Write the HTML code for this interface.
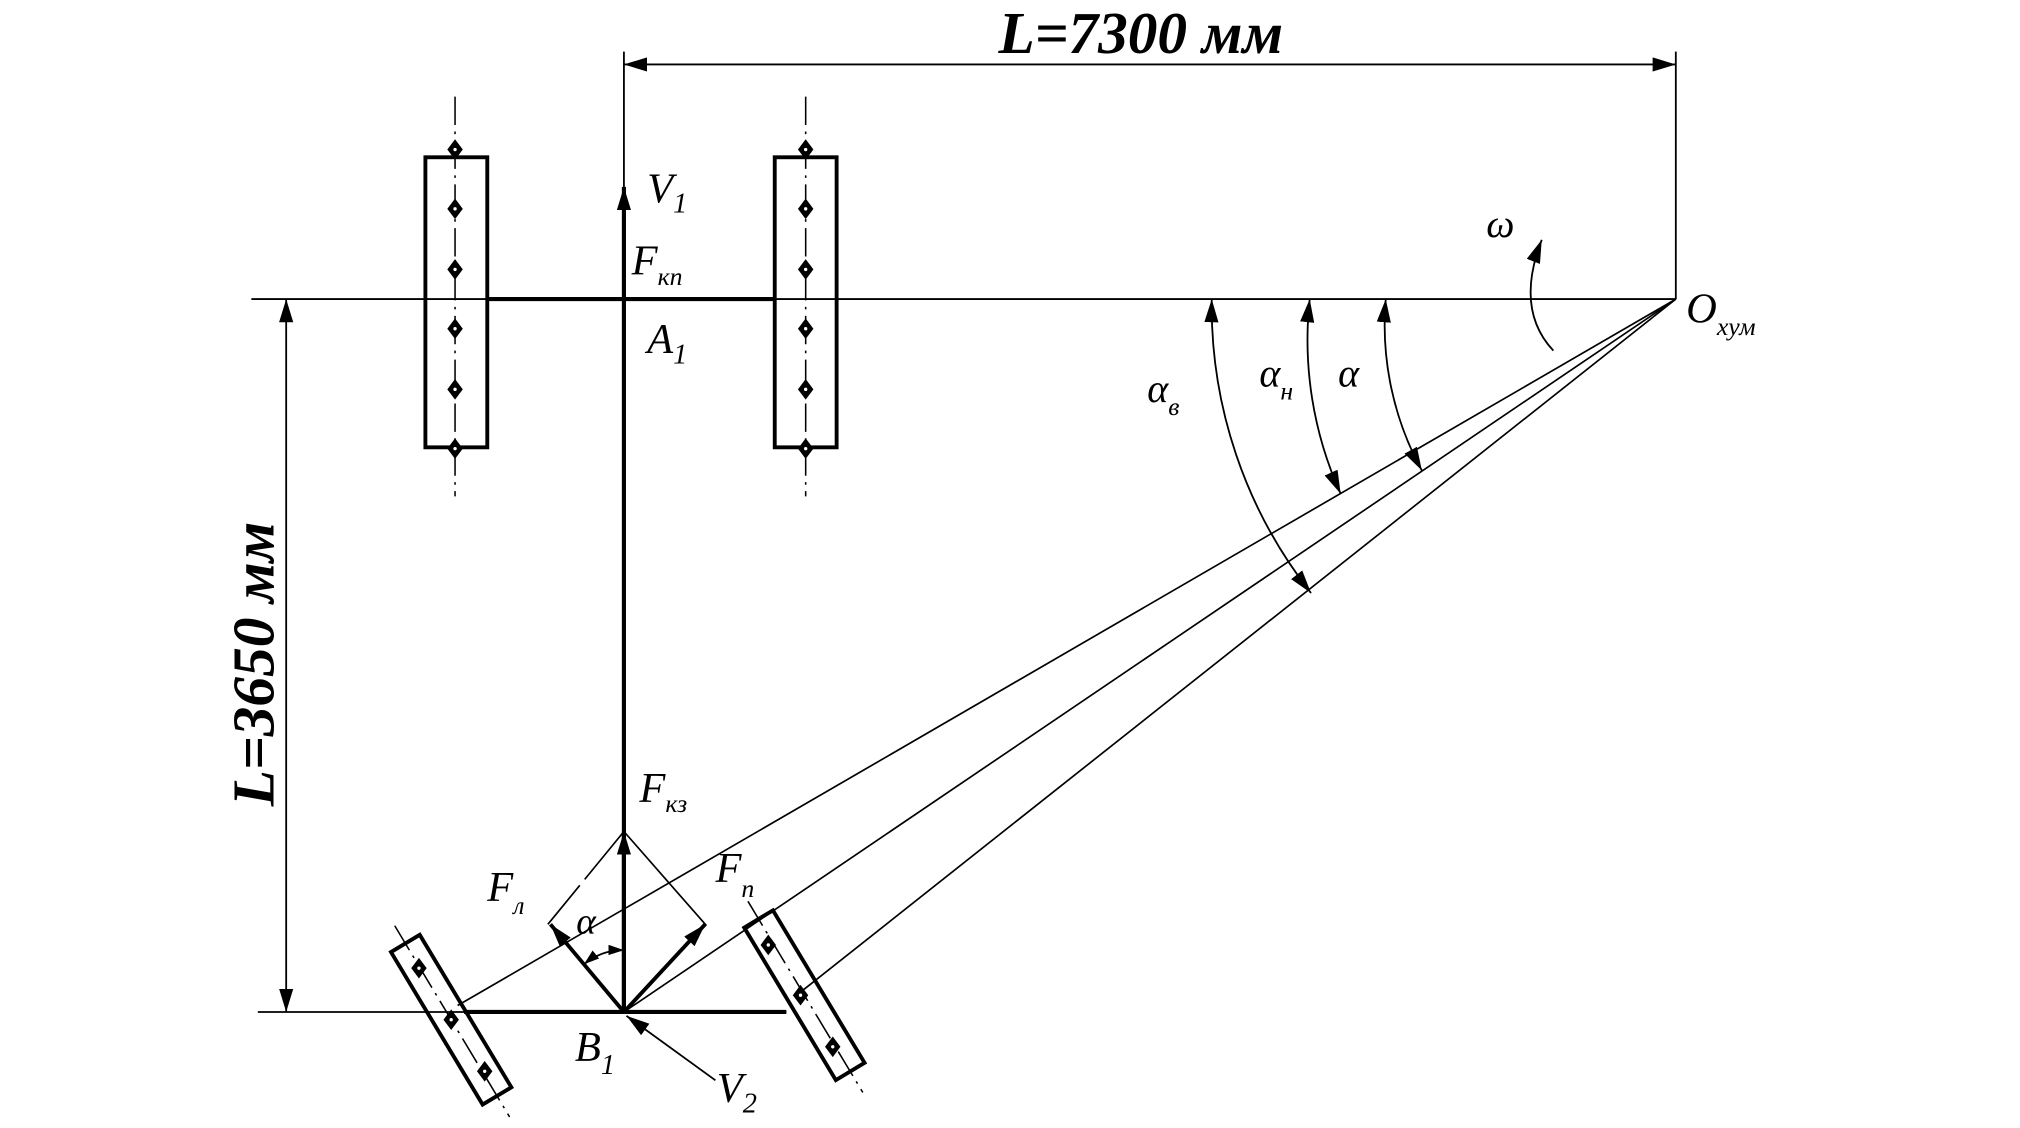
<!DOCTYPE html>
<html><head><meta charset="utf-8"><style>
html,body{margin:0;padding:0;background:#fff;}
svg{display:block;}
text{font-family:"Liberation Serif",serif;font-style:italic;fill:#000;}
</style></head><body>
<svg width="2020" height="1128" viewBox="0 0 1567 875" preserveAspectRatio="none" xmlns="http://www.w3.org/2000/svg">
<defs>
<marker id="a" viewBox="0 0 18 11" refX="18" refY="5.5" markerWidth="18" markerHeight="11" markerUnits="userSpaceOnUse" orient="auto">
<path d="M0,0 L18,5.5 L0,11 Z" fill="#000"/></marker>
<marker id="as" viewBox="0 0 18 11" refX="0" refY="5.5" markerWidth="18" markerHeight="11" markerUnits="userSpaceOnUse" orient="auto">
<path d="M18,0 L0,5.5 L18,11 Z" fill="#000"/></marker>
<marker id="b" viewBox="0 0 12 8" refX="12" refY="4" markerWidth="12" markerHeight="8" markerUnits="userSpaceOnUse" orient="auto">
<path d="M0,0 L12,4 L0,8 Z" fill="#000"/></marker>
<marker id="bs" viewBox="0 0 12 8" refX="0" refY="4" markerWidth="12" markerHeight="8" markerUnits="userSpaceOnUse" orient="auto">
<path d="M12,0 L0,4 L12,8 Z" fill="#000"/></marker>
<g id="dia"><path d="M0,-8 L6,0 L0,8 L-6,0 Z" fill="#000"/><circle r="1.3" fill="#fff"/></g>
</defs>

<g stroke="#000" fill="none">
<line x1="484" y1="50" x2="1300" y2="50" stroke-width="1.4" marker-start="url(#as)" marker-end="url(#a)"/>
<line x1="484" y1="40" x2="484" y2="150" stroke-width="1.4"/>
<line x1="1300" y1="40" x2="1300" y2="232" stroke-width="1.4"/>
<line x1="195" y1="232" x2="1300" y2="232" stroke-width="1.4"/>
<line x1="378" y1="232" x2="601" y2="232" stroke-width="3.2"/>
<line x1="484" y1="785" x2="484" y2="145" stroke-width="3.2" marker-end="url(#a)"/>
<line x1="484" y1="785" x2="484" y2="645" stroke-width="3.2" marker-end="url(#a)"/>
<rect x="330" y="122" width="48" height="225" stroke-width="3"/>
<rect x="601" y="122" width="48" height="225" stroke-width="3"/>
<line x1="353" y1="75" x2="353" y2="385" stroke-width="1.2" stroke-dasharray="22 5 2 5"/>
<line x1="625" y1="75" x2="625" y2="385" stroke-width="1.2" stroke-dasharray="22 5 2 5"/>
<line x1="222" y1="785" x2="222" y2="232" stroke-width="1.4" marker-start="url(#as)" marker-end="url(#a)"/>
<line x1="200" y1="785" x2="610" y2="785" stroke-width="1.4"/>
<line x1="360" y1="785" x2="610" y2="785" stroke-width="3.2"/>
<line x1="1300" y1="232" x2="355" y2="780" stroke-width="1.3"/>
<line x1="1300" y1="232" x2="484" y2="785" stroke-width="1.3"/>
<line x1="1300" y1="232" x2="623" y2="768" stroke-width="1.3"/>
<line x1="484" y1="645" x2="425" y2="717" stroke-width="1.3" stroke-dasharray="48 6 40"/>
<line x1="484" y1="645" x2="548" y2="718" stroke-width="1.3"/>
<line x1="484" y1="785" x2="427" y2="717" stroke-width="3" marker-end="url(#a)"/>
<line x1="484" y1="785" x2="547" y2="717" stroke-width="3" marker-end="url(#a)"/>
<path d="M484,737 A48,48 0 0 0 453,748" stroke-width="1.4" marker-start="url(#bs)" marker-end="url(#b)"/>
<line x1="555" y1="838" x2="486" y2="788" stroke-width="1.4" marker-end="url(#a)"/>
<g transform="translate(350,791) rotate(-31)">
<rect x="-13" y="-69" width="26" height="138" stroke-width="3"/>
<line x1="0" y1="-85" x2="0" y2="88" stroke-width="1.2" stroke-dasharray="22 5 2 5"/>
</g>
<g transform="translate(624,772) rotate(-31)">
<rect x="-13" y="-69" width="26" height="138" stroke-width="3"/>
<line x1="0" y1="-85" x2="0" y2="88" stroke-width="1.2" stroke-dasharray="22 5 2 5"/>
</g>
<path d="M940,232 A360,360 0 0 0 1017,460" stroke-width="1.4" marker-start="url(#as)" marker-end="url(#a)"/>
<path d="M1016,232 A290,290 0 0 0 1040,383" stroke-width="1.4" marker-start="url(#as)" marker-end="url(#a)"/>
<path d="M1075,232 A235,235 0 0 0 1103,365" stroke-width="1.4" marker-start="url(#as)" marker-end="url(#a)"/>
<path d="M1205,272 Q1175,240 1196,186" stroke-width="1.4" marker-end="url(#a)"/>
</g>

<g>
<use href="#dia" x="353" y="116"/><use href="#dia" x="353" y="162"/><use href="#dia" x="353" y="209"/>
<use href="#dia" x="353" y="255"/><use href="#dia" x="353" y="302"/><use href="#dia" x="353" y="348"/>
<use href="#dia" x="625" y="116"/><use href="#dia" x="625" y="162"/><use href="#dia" x="625" y="209"/>
<use href="#dia" x="625" y="255"/><use href="#dia" x="625" y="302"/><use href="#dia" x="625" y="348"/>
<use href="#dia" x="325" y="751"/><use href="#dia" x="350" y="791"/><use href="#dia" x="376" y="831"/>
<use href="#dia" x="596" y="733"/><use href="#dia" x="621" y="772"/><use href="#dia" x="646" y="812"/>
</g>

<text x="885" y="41" text-anchor="middle" font-size="46" font-weight="bold">L=7300 мм</text>
<text transform="translate(212,515) rotate(-90)" text-anchor="middle" font-size="46" font-weight="bold">L=3650 мм</text>
<text x="502" y="157" font-size="33">V<tspan font-size="22" dy="8">1</tspan></text>
<text x="490" y="213" font-size="33">F<tspan font-size="20" dy="8">кп</tspan></text>
<text x="502" y="274" font-size="33">A<tspan font-size="22" dy="8">1</tspan></text>
<text x="496" y="622" font-size="33">F<tspan font-size="20" dy="8">кз</tspan></text>
<text x="378" y="699" font-size="33">F<tspan font-size="20" dy="10">л</tspan></text>
<text x="555" y="684" font-size="33">F<tspan font-size="20" dy="12">п</tspan></text>
<text x="447" y="724" font-size="29">α</text>
<text x="446" y="823" font-size="33">B<tspan font-size="22" dy="10">1</tspan></text>
<text x="556" y="855" font-size="33">V<tspan font-size="22" dy="8">2</tspan></text>
<text x="890" y="312" font-size="31">α<tspan font-size="20" dy="10">в</tspan></text>
<text x="977" y="300" font-size="31">α<tspan font-size="20" dy="10">н</tspan></text>
<text x="1038" y="300" font-size="31">α</text>
<text x="1153" y="184" font-size="31">ω</text>
<text x="1308" y="250" font-size="33">O<tspan font-size="20" dy="10">хум</tspan></text>
</svg>
</body></html>
